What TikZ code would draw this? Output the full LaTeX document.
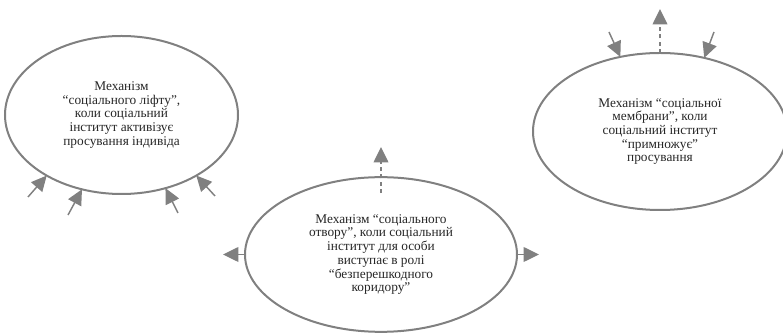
\documentclass[tikz,border=0pt]{standalone}
\usepackage{fontspec}
\setmainfont{Liberation Serif}
\usetikzlibrary{arrows.meta,%
		shapes.geometric,%
		positioning}

\definecolor{ringgray}{RGB}{128,128,128}
\tikzset{
  mech/.style={ellipse,draw=ringgray,line width=1.5pt,inner sep=0pt,outer sep=0pt,
    align=center,text=black!85,font=\fontsize{10}{10.3}\selectfont},
  push/.style={draw=ringgray,line width=1.1pt,-{Triangle[length=11.5pt,width=11pt]}},
  pushdash/.style={push,dash pattern=on 3pt off 2.5pt}
}

\begin{document}
\begin{tikzpicture}[x=0.75pt,y=-0.75pt]
  \useasboundingbox (0,0) rectangle (783,334);

  \node [mech,minimum width=174.75pt,minimum height=118.5pt] (lift) at (121.5,115)
    {Механізм\\“соціального ліфту”,\\коли соціальний\\інститут активізує\\просування індивіда};
  \node [mech,minimum width=204pt,minimum height=116pt] (hole) at (381,254.5)
    {Механізм “соціального\\отвору”, коли соціальний\\інститут для особи\\виступає в ролі\\“безперешкодного\\коридору”};
  \node [mech,minimum width=190.5pt,minimum height=117.75pt] (membr) at (660,131.5)
    {Механізм “соціальної\\мембрани”, коли\\соціальний інститут\\“примножує”\\просування};

  % lift: pushed from below
  \coordinate (liftA) at (28,197);
  \coordinate (liftB) at (68,215);
  \coordinate (liftC) at (178,213);
  \coordinate (liftD) at (215,196);
  \draw[push] (liftA) -- (lift.219);
  \draw[push] (liftB) -- (lift.242);
  \draw[push] (liftC) -- (lift.301);
  \draw[push] (liftD) -- (lift.321);

  % hole: open to both sides and upwards
  \coordinate (holeW) at (223,254.5);
  \coordinate (holeE) at (539,254.5);
  \coordinate (holeUp) at (381,147);
  \draw[push] (hole.west) -- (holeW);
  \draw[push] (hole.east) -- (holeE);
  \draw[pushdash] ([yshift=-12pt]hole.north) -- (holeUp);

  % membrane: two in, one out
  \coordinate (membrA) at (609,32);
  \coordinate (membrB) at (714,32);
  \coordinate (membrUp) at (660,9);
  \draw[push] (membrA) -- (membr.118);
  \draw[push] (membrB) -- (membr.59);
  \draw[pushdash] (membr.north) -- (membrUp);

%  \foreach \a in {219,242,301,321}
%    \fill[red] (lift.\a) circle (1pt);

\end{tikzpicture}
\end{document}
